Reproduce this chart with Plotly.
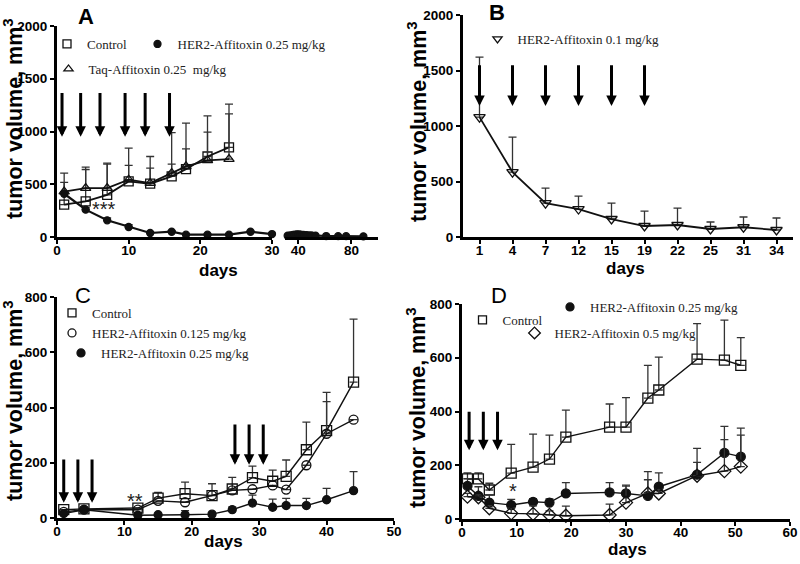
import plotly.graph_objects as go

W, H = 800, 564

# ---------------- Panel A ----------------
a_days = [1, 4, 7, 10, 13, 16, 18, 21, 24]
a_ctrl = [306, 338, 400, 527, 505, 574, 643, 763, 849]
a_ctrl_err = [211, 302, 290, 151, 148, 117, 193, 231, 410]
a_taq = [430, 464, 464, 543, 511, 606, 669, 726, 738]
a_taq_err = [176, 198, 236, 299, 252, 384, 410, 422, 429]
a_her_days = [1, 4, 7, 10, 13, 16, 18, 21, 24, 27, 30]
a_her = [410, 259, 158, 95, 38, 50, 22, 22, 22, 50, 28]
a_her_err = [0, 20, 24, 22, 10, 10, 5, 5, 5, 8, 8]
a_her2_days = [32, 34, 36, 37.5, 39, 40.5, 42, 44, 46, 48, 50, 53, 61, 70, 76, 89]
a_her2 = [12, 16, 20, 22, 25, 24, 22, 20, 18, 16, 14, 12, 9, 8, 8, 6]
a_dose_days = [0.7, 3.3, 6.0, 9.5, 12.3, 15.7]
a_arrow_top, a_arrow_tip = 1380, 950

# ---------------- Panel B ----------------
b_days = ["1", "4", "7", "12", "15", "19", "22", "25", "31", "34"]
b_her = [1080, 585, 305, 252, 162, 99, 108, 72, 88, 63]
b_her_err = [540, 315, 136, 117, 144, 135, 153, 63, 92, 108]
b_dose_days = ["1", "4", "7", "12", "15", "19"]
b_arrow_top, b_arrow_tip = 1560, 1180

# ---------------- Panel C ----------------
c_days = [1, 4, 12, 15, 19, 23, 26, 29, 32, 34, 37, 40, 44]
c_ctrl = [30, 33, 36, 72, 88, 81, 105, 146, 133, 151, 247, 316, 492]
c_ctrl_err = [0, 0, 0, 21, 42, 43, 42, 42, 40, 59, 100, 139, 228]
c_lo = [22, 30, 30, 62, 57, 82, 100, 104, 118, 103, 191, 305, 356]
c_lo_err = [0, 0, 0, 0, 0, 0, 0, 0, 0, 0, 0, 116, 0]
c_hi = [16, 30, 10, 12, 12, 14, 30, 54, 39, 45, 45, 66, 99]
c_hi_err = [0, 0, 0, 0, 15, 0, 10, 29, 29, 26, 26, 41, 69]
c_dose_days = [1.0, 3.1, 5.2, 26.4, 28.5, 30.6]
c_arrow_top = [217, 217, 217, 344, 344, 344]
c_arrow_tip = [55, 55, 55, 193, 193, 193]

# ---------------- Panel D ----------------
d_days = [1, 3, 5, 9, 13, 16, 19, 27, 30, 34, 36, 43, 48, 51]
d_ctrl = [149, 149, 108, 171, 193, 223, 305, 342, 342, 450, 480, 595, 591, 572]
d_ctrl_err = [23, 23, 25, 107, 123, 89, 100, 86, 110, 122, 122, 132, 149, 103]
d_q = [123, 86, 61, 52, 64, 61, 95, 99, 95, 86, 120, 165, 246, 232]
d_q_err = [27, 34, 29, 21, 11, 14, 40, 36, 31, 90, 52, 98, 99, 106]
d_h = [83, 81, 40, 21, 19, 15, 12, 15, 61, 95, 95, 161, 178, 195]
d_h_err = [12, 9, 10, 19, 30, 15, 36, 40, 61, 51, 15, 50, 117, 117]
d_dose_days = [1.3, 3.9, 6.5]
d_arrow_top, d_arrow_tip = 405, 256

SANS = "Liberation Sans"
SERIF = "Liberation Serif"
INK = "#111111"


def px(x):
    return x / W


def py(y):
    return 1 - y / H


def err(arr):
    return dict(type="data", symmetric=False, array=arr, arrayminus=[0] * len(arr),
                color="#333333", thickness=1.3, width=4)


fig = go.Figure()


def series(x, y, e, xa, ya, symbol, size, lw=1.6):
    mk = dict(symbol=symbol, size=size, color=INK,
              line=dict(color=INK, width=1.3))
    fig.add_trace(go.Scatter(
        x=x, y=y, mode="lines+markers", xaxis=xa, yaxis=ya,
        line=dict(color=INK, width=lw), marker=mk,
        error_y=err(e) if e is not None else None,
        showlegend=False, cliponaxis=False))


def legend_item(name, symbol, size, xa, ya, leg):
    fig.add_trace(go.Scatter(
        x=[None], y=[None], mode="markers", xaxis=xa, yaxis=ya, name=name,
        marker=dict(symbol=symbol, size=size, color=INK, line=dict(color=INK, width=1.3)),
        legend=leg, showlegend=True))


# Panel A traces
series(a_days, a_ctrl, a_ctrl_err, "x", "y", "square-open", 9, 1.8)
series(a_days, a_taq, a_taq_err, "x", "y", "triangle-up-open", 9, 1.8)
series(a_her_days, a_her, a_her_err, "x", "y", "circle", 7, 2.2)
series(a_her2_days, a_her2, None, "x2", "y", "circle", 7, 2.2)

# Panel B
series(b_days, b_her, b_her_err, "x3", "y2", "triangle-down-open", 10, 1.8)

# Panel C
series(c_days, c_ctrl, c_ctrl_err, "x4", "y3", "square-open", 10, 1.4)
series(c_days, c_lo, c_lo_err, "x4", "y3", "circle-open", 9, 1.4)
series(c_days, c_hi, c_hi_err, "x4", "y3", "circle", 8, 1.4)

# Panel D
series(d_days, d_ctrl, d_ctrl_err, "x5", "y4", "square-open", 10, 1.4)
series(d_days, d_q, d_q_err, "x5", "y4", "circle", 9, 1.4)
series(d_days, d_h, d_h_err, "x5", "y4", "diamond-open", 10, 1.4)

# legend entries
legend_item("Control", "square-open", 8, "x", "y", "legend")
legend_item("HER2-Affitoxin 0.25 mg/kg", "circle", 7, "x", "y", "legend2")
legend_item("Taq-Affitoxin 0.25  mg/kg", "triangle-up-open", 8, "x", "y", "legend3")
legend_item("HER2-Affitoxin 0.1 mg/kg", "triangle-down-open", 8, "x3", "y2", "legend4")
legend_item("Control", "square-open", 8, "x4", "y3", "legend5")
legend_item("HER2-Affitoxin 0.125 mg/kg", "circle-open", 8, "x4", "y3", "legend6")
legend_item("HER2-Affitoxin 0.25 mg/kg", "circle", 8, "x4", "y3", "legend7")
legend_item("Control", "square-open", 8, "x5", "y4", "legend8")
legend_item("HER2-Affitoxin 0.25 mg/kg", "circle", 8, "x5", "y4", "legend9")
legend_item("HER2-Affitoxin 0.5 mg/kg", "diamond-open", 9, "x5", "y4", "legend10")

# (marker centre x, text start x, y) from the reference; legend x chosen between them
leg_ref = {
    "legend": (71, 83, 44), "legend2": (163, 172, 44), "legend3": (72, 85, 69),
    "legend4": (504, 511, 39),
    "legend5": (77, 87, 313), "legend6": (77, 87, 333), "legend7": (85, 97, 353),
    "legend8": (488, 497, 320), "legend9": (575, 585, 307), "legend10": (540, 549, 333),
}

axis_common = dict(showline=True, linecolor="black", linewidth=3, ticks="outside",
                   ticklen=4, tickwidth=2, tickcolor="black", showgrid=False,
                   zeroline=False, automargin=False,
                   tickfont=dict(family=SANS, size=13.5, color="black", weight="bold"))
xcommon = dict(axis_common, ticklabelstandoff=-5)

layout = dict(
    width=W, height=H, margin=dict(l=0, r=0, t=0, b=0, autoexpand=False),
    template="none",
    paper_bgcolor="white", plot_bgcolor="white", showlegend=True,
    xaxis=dict(domain=[px(57), px(272)], anchor="y", range=[0, 30],
               tickvals=[0, 10, 20, 30], **xcommon),
    xaxis2=dict(domain=[px(285), px(378)], anchor="y", range=[30, 100],
                tickvals=[40, 80], **xcommon),
    yaxis=dict(domain=[py(237), py(26)], anchor="x", range=[0, 2000],
               tickvals=[0, 500, 1000, 1500, 2000], **axis_common),
    xaxis3=dict(domain=[px(463), px(793)], anchor="y2", type="category",
                range=[-0.5, 9.5], **xcommon),
    yaxis2=dict(domain=[py(237), py(15)], anchor="x3", range=[0, 2000],
                tickvals=[0, 500, 1000, 1500, 2000], **axis_common),
    xaxis4=dict(domain=[px(57), px(394)], anchor="y3", range=[0, 50],
                tickvals=[0, 10, 20, 30, 40, 50], **xcommon),
    yaxis3=dict(domain=[py(518), py(297)], anchor="x4", range=[0, 800],
                tickvals=[0, 200, 400, 600, 800], **axis_common),
    xaxis5=dict(domain=[px(462), px(790)], anchor="y4", range=[0, 60],
                tickvals=[0, 10, 20, 30, 40, 50, 60], **xcommon),
    yaxis4=dict(domain=[py(519), py(304)], anchor="x5", range=[0, 800],
                tickvals=[0, 200, 400, 600, 800], **axis_common),
)
for name, (mx, tx, ly) in leg_ref.items():
    lx = (mx + tx) / 2 - 30
    layout[name] = dict(x=px(lx), y=py(ly), xanchor="left", yanchor="middle",
                        bgcolor="rgba(0,0,0,0)", borderwidth=0, itemwidth=30,
                        font=dict(family=SERIF, size=13, color="#222222"),
                        tracegroupgap=0)
fig.update_layout(**layout)

ann = []


def arrow(xr, yr, x, top, tip):
    ann.append(dict(xref=xr, yref=yr, axref=xr, ayref=yr, x=x, y=tip, ax=x, ay=top,
                    text="", showarrow=True, arrowhead=2, arrowsize=0.7,
                    arrowwidth=3, arrowcolor="black", standoff=0, startstandoff=0))


for d in a_dose_days:
    arrow("x", "y", d, a_arrow_top, a_arrow_tip)
for d in b_dose_days:
    arrow("x3", "y2", b_days.index(d), b_arrow_top, b_arrow_tip)
for d, t0, t1 in zip(c_dose_days, c_arrow_top, c_arrow_tip):
    arrow("x4", "y3", d, t0, t1)
for d in d_dose_days:
    arrow("x5", "y4", d, d_arrow_top, d_arrow_tip)


def ptext(x, y, t, size, bold=True, family=SANS, angle=0):
    ann.append(dict(xref="paper", yref="paper", x=px(x), y=py(y), text=t,
                    showarrow=False, textangle=angle, xanchor="center", yanchor="middle",
                    font=dict(family=family, size=size, color="black",
                              weight="bold" if bold else "normal")))


ytitle = "tumor volume, mm<sup>3</sup>"
ptext(13, 119, ytitle, 21.5, angle=-90)
ptext(417, 122, ytitle, 21.5, angle=-90)
ptext(13, 401, ytitle, 21.5, angle=-90)
ptext(416, 408, ytitle, 21.5, angle=-90)
ptext(218, 270, "days", 17)
ptext(625, 268, "days", 17)
ptext(223, 541, "days", 17)
ptext(627, 549, "days", 17)
ptext(86, 16, "A", 22)
ptext(497, 12, "B", 22)
ptext(83, 295, "C", 22, bold=False)
ptext(499, 295, "D", 22, bold=False)

# significance marks
ann.append(dict(xref="x", yref="y", x=4.6, y=262, text="***", showarrow=False,
                xanchor="left", font=dict(family=SANS, size=20, color="#222")))
ann.append(dict(xref="x4", yref="y3", x=11.6, y=62, text="**", showarrow=False,
                font=dict(family=SANS, size=20, color="#222")))
ann.append(dict(xref="x5", yref="y4", x=9.3, y=104, text="*", showarrow=False,
                font=dict(family=SANS, size=20, color="#222")))

fig.update_layout(annotations=ann)
fig.write_html("out.html", config={"displayModeBar": False},
               post_script="document.body.style.margin='0';document.body.style.padding='0';")
